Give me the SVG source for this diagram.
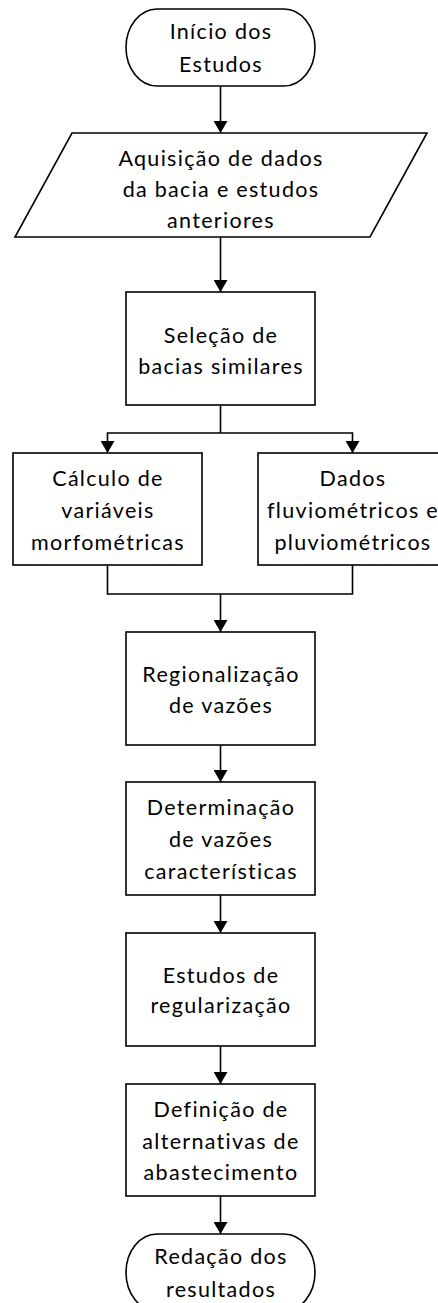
<svg xmlns="http://www.w3.org/2000/svg" width="438" height="1303" viewBox="0 0 438 1303">
  <style>
    .shape { fill: #ffffff; stroke: #000000; stroke-width: 1.6; }
    .conn { fill: none; stroke: #000000; stroke-width: 1.6; }
    .t { font-family: "Lato", "Liberation Sans", sans-serif; font-size: 21.5px; letter-spacing: 1.3px; text-anchor: middle; fill: #000000; }
  </style>
  <defs>
    <marker id="arrow" viewBox="0 0 12 14" refX="12" refY="7" markerWidth="12" markerHeight="14" markerUnits="userSpaceOnUse" orient="auto">
      <path d="M0,0 L12,7 L0,14 z" fill="#000000"/>
    </marker>
  </defs>
  <rect x="0" y="0" width="438" height="1303" fill="#ffffff"/>

  <g id="connectors">
    <path class="conn" d="M220.5,86 V133" marker-end="url(#arrow)"/>
    <path class="conn" d="M220.5,237 V292" marker-end="url(#arrow)"/>
    <path class="conn" d="M220.5,405 V433"/>
    <path class="conn" d="M220.5,433 H107.5 V453" marker-end="url(#arrow)"/>
    <path class="conn" d="M220.5,433 H352.5 V453" marker-end="url(#arrow)"/>
    <path class="conn" d="M107.5,565 V594 H352.5 V565"/>
    <path class="conn" d="M220.5,594 V632" marker-end="url(#arrow)"/>
    <path class="conn" d="M220.5,745 V782" marker-end="url(#arrow)"/>
    <path class="conn" d="M220.5,895 V933" marker-end="url(#arrow)"/>
    <path class="conn" d="M220.5,1046 V1084" marker-end="url(#arrow)"/>
    <path class="conn" d="M220.5,1196 V1234" marker-end="url(#arrow)"/>
  </g>

  <g id="inicio">
    <path class="shape" d="M157,9 H284 A31,38.5 0 0 1 284,86 H157 A31,38.5 0 0 1 157,9 Z"/>
    <text class="t" x="221" y="39">Início dos</text>
    <text class="t" x="221" y="71.5">Estudos</text>
  </g>

  <g id="aquisicao">
    <polygon class="shape" points="72,133 427,133 370,237 15,237"/>
    <text class="t" x="221" y="166">Aquisição de dados</text>
    <text class="t" x="221" y="197">da bacia e estudos</text>
    <text class="t" x="221" y="228">anteriores</text>
  </g>

  <g id="selecao">
    <rect class="shape" x="126" y="292" width="189" height="113"/>
    <text class="t" x="221" y="343">Seleção de</text>
    <text class="t" x="221" y="374">bacias similares</text>
  </g>

  <g id="calculo">
    <rect class="shape" x="13" y="453" width="189" height="112"/>
    <text class="t" x="108" y="486">Cálculo de</text>
    <text class="t" x="108" y="518">variáveis</text>
    <text class="t" x="108" y="550">morfométricas</text>
  </g>

  <g id="dados">
    <rect class="shape" x="258" y="453" width="189" height="112"/>
    <text class="t" x="353" y="486">Dados</text>
    <text class="t" x="353" y="518">fluviométricos e</text>
    <text class="t" x="353" y="550">pluviométricos</text>
  </g>

  <g id="regionalizacao">
    <rect class="shape" x="126" y="632" width="189" height="113"/>
    <text class="t" x="221" y="682">Regionalização</text>
    <text class="t" x="221" y="713">de vazões</text>
  </g>

  <g id="determinacao">
    <rect class="shape" x="126" y="782" width="189" height="113"/>
    <text class="t" x="221" y="815">Determinação</text>
    <text class="t" x="221" y="847">de vazões</text>
    <text class="t" x="221" y="879">características</text>
  </g>

  <g id="estudos">
    <rect class="shape" x="126" y="933" width="189" height="113"/>
    <text class="t" x="221" y="983">Estudos de</text>
    <text class="t" x="221" y="1013">regularização</text>
  </g>

  <g id="definicao">
    <rect class="shape" x="126" y="1084" width="189" height="112"/>
    <text class="t" x="221" y="1117">Definição de</text>
    <text class="t" x="221" y="1149">alternativas de</text>
    <text class="t" x="221" y="1180">abastecimento</text>
  </g>

  <g id="redacao">
    <path class="shape" d="M157,1234 H284 A31,38.5 0 0 1 284,1311 H157 A31,38.5 0 0 1 157,1234 Z"/>
    <text class="t" x="221" y="1264">Redação dos</text>
    <text class="t" x="221" y="1297">resultados</text>
  </g>
</svg>
